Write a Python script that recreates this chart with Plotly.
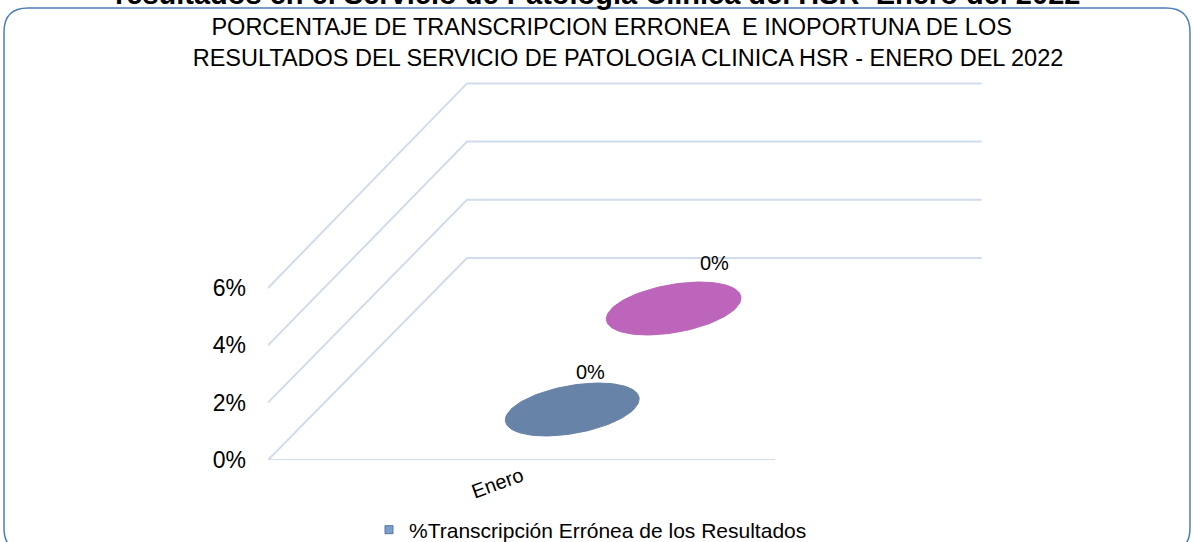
import numpy as np
import plotly.graph_objects as go

# ---------------- data ----------------
categories = ["Enero"]
series_names = ["%Transcripción Errónea de los Resultados",
                "%Transcripción Inoportuna de los Resultados"]
series_values = [[0.0], [0.0]]
series_colors = ["#6783A7", "#BC65BA"]
y_ticks = [0.0, 0.02, 0.04, 0.06]

title_l1 = "PORCENTAJE DE TRANSCRIPCION ERRONEA  E INOPORTUNA DE LOS"
title_l2 = "RESULTADOS DEL SERVICIO DE PATOLOGIA CLINICA HSR - ENERO DEL 2022"
top_caption = "resultados en el Servicio de Patología Clínica del HSR  Enero del 2022"

# ---------------- geometry of the pseudo-3D view ----------------
W, H = 1193, 542
ML, MR, MT, MB = 268, 208, 70, 82
PW, PH = W - ML - MR, H - MT - MB
CW = 507.0        # px per category (front)
VH = 2867.0       # px per unit value (front)
DX, DY = 199.0, 202.0   # depth vector in px
K = 0.015         # perspective growth toward back
XR = PW / CW
YR = PH / VH


def proj(x, v, d):
    """category-x, value, depth -> axis coordinates"""
    s = 1 + K * np.asarray(d)
    return x * s + np.asarray(d) * DX / CW, v * s + np.asarray(d) * DY / VH


FONT = "Arial, Liberation Sans, sans-serif"
GRID = "#D0DCEC"

fig = go.Figure()

# gridlines (side and back walls)
for v in y_ticks:
    xs, ys = proj(np.array([0.0, 0.0, 1.0]), np.array([v, v, v]), np.array([0.0, 1.0, 1.0]))
    fig.add_trace(go.Scatter(x=xs, y=ys, mode="lines", line=dict(color=GRID, width=2),
                             hoverinfo="skip", showlegend=False))
# floor front edge
xs, ys = proj(np.array([0.0, 1.0]), np.array([0.0, 0.0]), np.array([0.0, 0.0]))
fig.add_trace(go.Scatter(x=xs, y=ys, mode="lines", line=dict(color=GRID, width=2),
                         hoverinfo="skip", showlegend=False))

# cylinders (value 0 -> flat disks)
A = 0.1207   # radius along category axis
RD = 0.131   # radius along depth
t = np.linspace(0, 2 * np.pi, 121)
n = len(series_names)
label_shift = [(18, 38), (41, 46)]
for si in range(n - 1, -1, -1):
    for ci, cat in enumerate(categories):
        v = series_values[si][ci]
        dc = (si + 0.5) / n
        cx = ci + 0.5
        ex, ey = proj(cx + A * np.cos(t), v + 0 * t, dc + RD * np.sin(t))
        fig.add_trace(go.Scatter(x=ex, y=ey, mode="lines", fill="toself",
                                 fillcolor=series_colors[si],
                                 line=dict(color=series_colors[si], width=1),
                                 hoverinfo="skip", showlegend=False))
        lx, ly = proj(cx, v, dc)
        fig.add_annotation(x=float(lx), y=float(ly), text=f"{v:.0%}", showarrow=False,
                           xshift=label_shift[si][0], yshift=label_shift[si][1],
                           font=dict(family=FONT, size=20, color="#000"))

# legend entry (only the first series is visible in the reference)
fig.add_trace(go.Scatter(x=[None], y=[None], mode="markers", name=series_names[0],
                         marker=dict(symbol="square", size=8, color="#7C9ECB",
                                     line=dict(color="#56779F", width=1)),
                         showlegend=True))

fig.update_layout(
    width=W, height=H,
    margin=dict(l=ML, r=MR, t=MT, b=MB, autoexpand=False),
    paper_bgcolor="white", plot_bgcolor="white",
    font=dict(family=FONT, color="#000"),
    title=dict(text=title_l1 + "\u00a0" * 5 + "<br>" + title_l2,
               x=628 / W, xref="container", xanchor="center",
               y=1 - 35 / H, yref="container", yanchor="middle",
               font=dict(family=FONT, size=23.5, color="#000")),
    xaxis=dict(range=[0, XR], showgrid=False, zeroline=False, showline=False,
               automargin=False,
               tickmode="array", tickvals=[ci + 0.5 for ci in range(len(categories))],
               ticktext=categories, tickangle=-20, ticks="",
               tickfont=dict(family=FONT, size=20)),
    yaxis=dict(range=[0, YR], showgrid=False, zeroline=False, showline=False,
               automargin=False,
               tickmode="array", tickvals=y_ticks, tickformat=".0%", ticks="",
               ticklabelstandoff=21, tickfont=dict(family=FONT, size=23)),
    showlegend=True,
    legend=dict(orientation="h", xref="container", yref="container",
                x=369 / W, xanchor="left", y=1 - 530 / H, yanchor="middle",
                font=dict(family=FONT, size=21), itemwidth=30,
                bgcolor="rgba(0,0,0,0)"),
)

# cropped caption above the chart frame
fig.add_annotation(text="<b>" + top_caption + "</b>", xref="paper", yref="paper",
                   x=(597 - ML) / PW, y=(MT + PH - 12) / PH, xanchor="center", yanchor="bottom",
                   showarrow=False, font=dict(family=FONT, size=29, color="#000"))


# rounded frame
def px2p(px, py):
    return (px - ML) / PW, (MT + PH - py) / PH


L, R, T, B, r = 4, 1190, 8, 552, 24
x0, y0 = px2p(L, T + r); x1, y1 = px2p(L, T); x2, y2 = px2p(L + r, T)
x3, y3 = px2p(R - r, T); x4, y4 = px2p(R, T); x5, y5 = px2p(R, T + r)
x6, y6 = px2p(R, B - r); x7, y7 = px2p(R, B); x8, y8 = px2p(R - r, B)
x9, y9 = px2p(L + r, B); xa, ya = px2p(L, B); xb, yb = px2p(L, B - r)
path = (f"M{x0},{y0} Q{x1},{y1} {x2},{y2} L{x3},{y3} Q{x4},{y4} {x5},{y5} "
        f"L{x6},{y6} Q{x7},{y7} {x8},{y8} L{x9},{y9} Q{xa},{ya} {xb},{yb} Z")
fig.add_shape(type="path", path=path, xref="paper", yref="paper",
              line=dict(color="#4A7EBB", width=1.5), layer="below")

fig.write_html("out.html", config={"displayModeBar": False},
               post_script="document.body.style.margin='0px';")
